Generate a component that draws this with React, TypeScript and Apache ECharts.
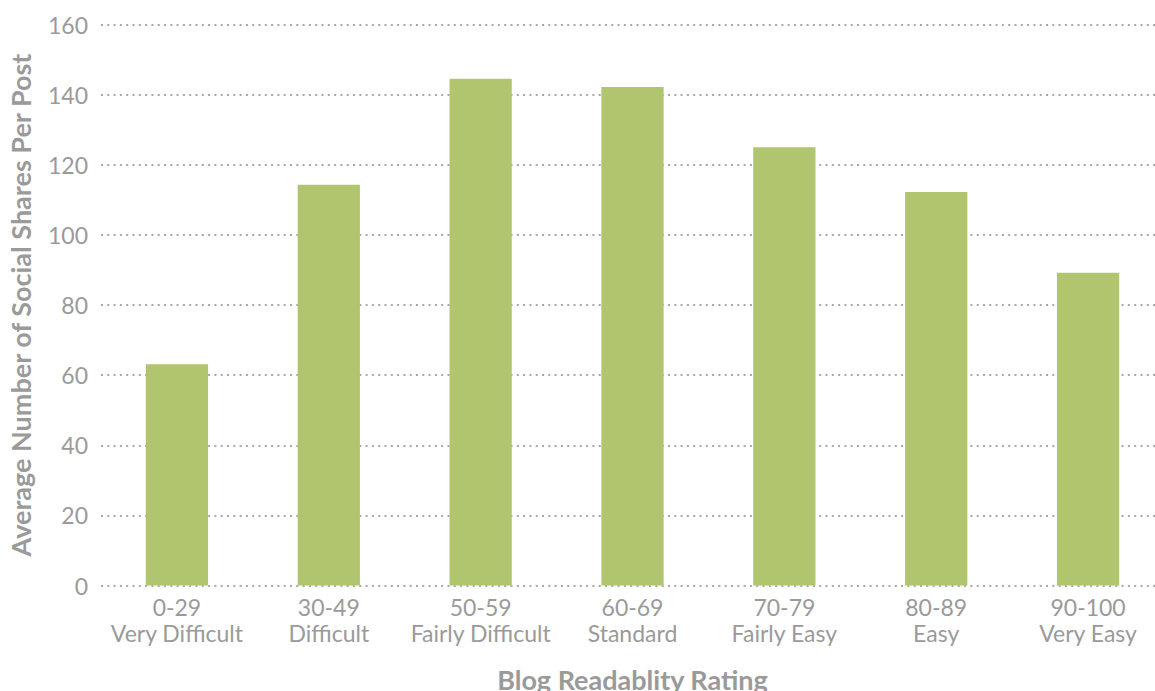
import React, { useEffect, useRef } from "react";
import * as echarts from "echarts";

const categories = [
  "0-29\nVery Difficult",
  "30-49\nDifficult",
  "50-59\nFairly Difficult",
  "60-69\nStandard",
  "70-79\nFairly Easy",
  "80-89\nEasy",
  "90-100\nVery Easy",
];
const shares = [63.1, 114.3, 144.5, 142.2, 125.0, 112.2, 89.2];
const yTicks = { min: 0, max: 160, interval: 20 };
const xTitle = "Blog Readablity Rating";
const yTitle = "Average Number of Social Shares Per Post";

const FONT = "Lato, 'Open Sans', sans-serif";
const GRAY = "#9a9a9a";

export default function App() {
  const ref = useRef<HTMLDivElement>(null);
  useEffect(() => {
    const chart = echarts.init(ref.current!, null, { renderer: "svg" });
    chart.setOption({
      animation: false,
      grid: {
        left: 101,
        right: -9,
        top: 24.5,
        bottom: 105.5,
        containLabel: false,
        outerBoundsMode: "none",
      },
      xAxis: {
        type: "category",
        data: categories,
        axisLine: { show: false },
        axisTick: { show: false },
        axisLabel: {
          interval: 0,
          color: GRAY,
          fontFamily: FONT,
          fontSize: 23,
          lineHeight: 26,
          margin: 8,
        },
        name: xTitle,
        nameLocation: "middle",
        nameGap: 80,
        nameTextStyle: {
          color: GRAY,
          fontFamily: FONT,
          fontSize: 27,
          fontWeight: "bold",
        },
      },
      yAxis: {
        type: "value",
        min: yTicks.min,
        max: yTicks.max,
        interval: yTicks.interval,
        axisLine: { show: false },
        axisTick: { show: false },
        axisLabel: {
          color: GRAY,
          fontFamily: FONT,
          fontSize: 23,
          margin: 13,
        },
        splitLine: {
          lineStyle: { color: "#a8a8a8", width: 2, type: [2, 4.3] },
        },
        name: yTitle,
        nameLocation: "middle",
        nameGap: 67,
        nameTextStyle: {
          color: GRAY,
          fontFamily: FONT,
          fontSize: 27,
          fontWeight: "bold",
        },
      },
      series: [
        {
          type: "bar",
          data: shares,
          barWidth: "41%",
          itemStyle: { color: "#b0c56e" },
        },
      ],
    });
    return () => chart.dispose();
  }, []);
  return (
    <div
      ref={ref}
      style={{ position: "fixed", left: 0, top: 0, width: 1155, height: 691, background: "#fff" }}
    />
  );
}
